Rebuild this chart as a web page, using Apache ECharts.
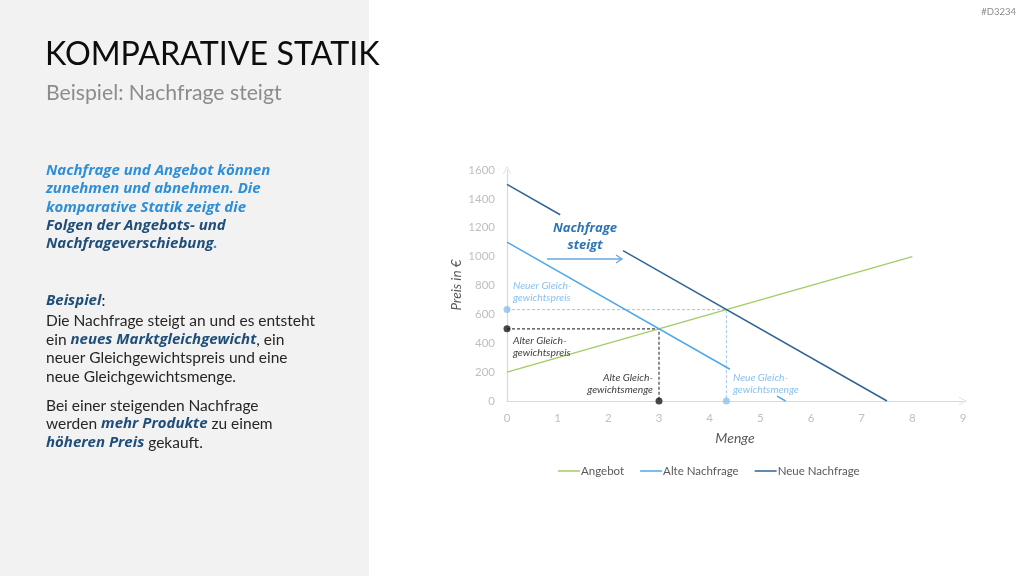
<!DOCTYPE html>
<html><head><meta charset="utf-8">
<style>html,body{margin:0;padding:0;background:#fff;}#c{width:1024px;height:576px;}</style>
<script src="https://cdn.jsdelivr.net/npm/echarts@6/dist/echarts.min.js"></script>
</head><body><div id="c"></div>
<script>
// ---- data ----
const xTicks = [0,1,2,3,4,5,6,7,8,9];
const yTicks = [0,200,400,600,800,1000,1200,1400,1600];
const angebot = [[0,200],[8,1000]];
const alteNachfrage = [[0,1100],[4.4,220],[4.9,'-'],[5.33,34],[5.5,0]];
const neueNachfrage = [[0,1500],[1.05,1290],[1.6,'-'],[2.29,1042],[7.5,0]];
const altesGG = [3,500];
const neuesGG = [4.33,633];

const FONT = 'Lato';
const BFONT = 'Open Sans';
const chart = echarts.init(document.getElementById('c'), null, {renderer:'canvas'});

const blue = '#2f8fd6', dark = '#1f4e79', body = '#262626';
function line(y, text){
  return {type:'text', x:46, y:y, z:10, style:{text:text, font:'15.5px '+FONT, fill:body, verticalAlign:'middle', rich:{
    b:{fill:blue, fontFamily:BFONT, fontSize:15, fontWeight:'bold', fontStyle:'italic'},
    d:{fill:dark, fontFamily:BFONT, fontSize:15, fontWeight:'bold', fontStyle:'italic'},
    n:{fill:body, fontFamily:FONT, fontSize:15.5}
  }}};
}
const leftLines = [
  [171,'{b|Nachfrage und Angebot können}'],
  [189,'{b|zunehmen und abnehmen. Die}'],
  [208,'{b|komparative Statik zeigt die}'],
  [226,'{d|Folgen der Angebots- und}'],
  [244,'{d|Nachfrageverschiebung}{b|.}'],
  [301,'{d|Beispiel}{n|:}'],
  [321,'{n|Die Nachfrage steigt an und es entsteht}'],
  [340,'{n|ein }{d|neues Marktgleichgewicht}{n|, ein}'],
  [358,'{n|neuer Gleichgewichtspreis und eine}'],
  [377,'{n|neue Gleichgewichtsmenge.}'],
  [406,'{n|Bei einer steigenden Nachfrage}'],
  [424,'{n|werden }{d|mehr Produkte}{n| zu einem}'],
  [443,'{d|höheren Preis}{n| gekauft.}']
];

function note(x, y, lines, color, align){
  return {type:'text', x:x, y:y, z:10,
    style:{text:lines, font:'italic 10.3px '+FONT, fill:color, lineHeight:11.5, align: align||'left', verticalAlign:'middle'}};
}

const graphics = [
  {type:'rect', shape:{x:0,y:0,width:369,height:576}, style:{fill:'#f2f2f2'}, z:-1},
  {type:'text', x:45, y:55, z:10, style:{text:'KOMPARATIVE STATIK', font:'32.2px '+FONT, fill:'#0d0d0d', verticalAlign:'middle'}},
  {type:'text', x:46, y:93, z:10, style:{text:'Beispiel: Nachfrage steigt', font:'21.2px '+FONT, fill:'#8c8c8c', verticalAlign:'middle'}},
  {type:'text', x:1016, y:12, z:10, style:{text:'#D3234', font:'9.5px '+FONT, fill:'#8c8c8c', align:'right', verticalAlign:'middle'}},
  ...leftLines.map(l=>line(l[0], l[1])),
  {type:'text', x:585, y:237, z:10, style:{text:'Nachfrage\nsteigt', font:'italic bold 13px '+BFONT, fill:'#2e75b6', align:'center', verticalAlign:'middle', lineHeight:17}},
  {type:'polyline', z:10, shape:{points:[[547,259],[622,259]]}, style:{stroke:'#6aa6dd', lineWidth:1.5}},
  {type:'polyline', z:10, shape:{points:[[616,255],[622,259],[616,263]]}, style:{stroke:'#6aa6dd', lineWidth:1.3, fill:null}},
  note(513, 291.5, 'Neuer Gleich-\ngewichtspreis', '#8cc0ec'),
  note(513, 346.5, 'Alter Gleich-\ngewichtspreis', '#404040'),
  note(653, 383.5, 'Alte Gleich-\ngewichtsmenge', '#404040', 'right'),
  note(733, 383.5, 'Neue Gleich-\ngewichtsmenge', '#8cc0ec'),
  {type:'text', x:457, y:285, rotation:Math.PI/2, z:10, style:{text:'Preis in €', font:'italic 13.5px '+FONT, fill:'#595959', align:'center', verticalAlign:'middle'}},
  {type:'text', x:735, y:438, z:10, style:{text:'Menge', font:'italic 14px '+FONT, fill:'#595959', align:'center', verticalAlign:'middle'}}
];

const chevron = 'path://M0,10 L5,0 L10,10 L9,10 L5,2 L1,10 Z';
const axisLine = {show:true, lineStyle:{color:'#d9d9d9', width:1.2}, symbol:['none', chevron], symbolSize:[9,8], symbolOffset:[0,0]};

const option = {
  animation:false,
  textStyle:{fontFamily:FONT},
  graphic: graphics,
  grid:{left:507, right:61, top:170, bottom:175, containLabel:false},
  legend:{data:['Angebot','Alte Nachfrage','Neue Nachfrage'], left:553, top:460, icon:'rect', itemWidth:22, itemHeight:1.5, itemGap:16,
    textStyle:{color:'#595959', fontSize:11.5, fontFamily:FONT, padding:[0,0,0,-4]}},
  xAxis:{type:'value', min:0, max:9, interval:1, axisLine:axisLine, axisTick:{show:false}, splitLine:{show:false},
    axisLabel:{color:'#bfbfbf', fontSize:11.5, margin:11, formatter:v=>xTicks.includes(v)?String(v):''}},
  yAxis:{type:'value', min:0, max:1600, interval:200, axisLine:axisLine, axisTick:{show:false}, splitLine:{show:false},
    axisLabel:{color:'#bfbfbf', fontSize:11.5, margin:12, formatter:v=>yTicks.includes(v)?String(v):''}},
  series:[
    {name:'Angebot', type:'line', data:angebot, symbol:'none', lineStyle:{color:'#a2cd65', width:1.5}, itemStyle:{color:'#a2cd65'}, z:3},
    {name:'Alte Nachfrage', type:'line', data:alteNachfrage, symbol:'none', lineStyle:{color:'#4ea8ea', width:1.5}, itemStyle:{color:'#4ea8ea'}, z:3},
    {name:'Neue Nachfrage', type:'line', data:neueNachfrage, symbol:'none', lineStyle:{color:'#2f6597', width:1.5}, itemStyle:{color:'#2f6597'}, z:3},
    {name:'altH', type:'line', data:[[0,altesGG[1]],altesGG,[altesGG[0],0]], symbol:'none', lineStyle:{color:'#404040', width:1.2, type:[3,2]}, z:2},
    {name:'neuH', type:'line', data:[[0,neuesGG[1]],neuesGG,[neuesGG[0],0]], symbol:'none', lineStyle:{color:'#9dc8ee', width:1, type:[3,2]}, z:2},
    {name:'altP', type:'scatter', data:[[0,altesGG[1]],[altesGG[0],0]], symbolSize:7, itemStyle:{color:'#1a1a1a'}, z:5},
    {name:'neuP', type:'scatter', data:[[0,neuesGG[1]],[neuesGG[0],0]], symbolSize:7, itemStyle:{color:'#8cc0ec'}, z:5}
  ]
};
chart.setOption(option);
</script></body></html>
